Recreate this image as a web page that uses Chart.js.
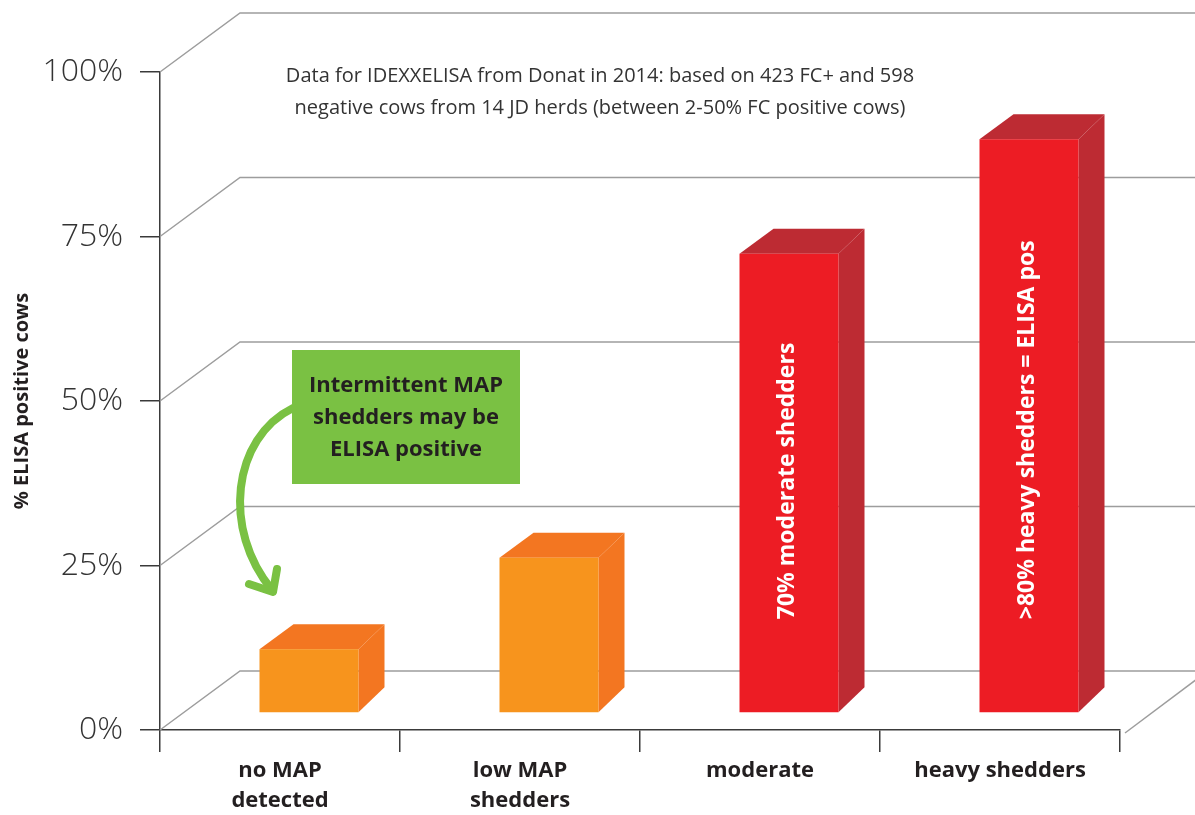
<!DOCTYPE html>
<html><head><meta charset="utf-8">
<script src="https://cdn.jsdelivr.net/npm/chart.js@4.4.1/dist/chart.umd.min.js"></script>
<style>html,body{margin:0;padding:0;background:#fff;}#wrap{width:1195px;height:815px;}</style>
</head><body><div id="wrap"><canvas id="c" width="1195" height="815"></canvas></div>
<script>
// ---- data ----
const categories = [['no MAP','detected'], ['low MAP','shedders'], 'moderate', 'heavy shedders'];
const elisaPositive = [9.7, 23.6, 69.8, 87.2];
const yTicks = [0, 25, 50, 75, 100];
const barLabels = ['', '', '70% moderate shedders', '>80% heavy shedders = ELISA pos'];
const noteLines = ['Data for IDEXXELISA from Donat in 2014: based on 423 FC+ and 598',
                   'negative cows from 14 JD herds (between 2-50% FC positive cows)'];
const calloutLines = ['Intermittent MAP', 'shedders may be', 'ELISA positive'];
const yTitle = '% ELISA positive cows';

// ---- styles ----
const frontColors = ['#F7941D', '#F7941D', '#ED1C24', '#ED1C24'];
const sideColors  = ['#F37621', '#F37621', '#BD2B33', '#BD2B33'];
const FONT = '"Open Sans", "Noto Sans", sans-serif';
const DEPTH_X = 80, DEPTH_Y = 59;
const BAR_SHIFT_X = 29, BAR_SHIFT_Y = 17;

const threeD = {
  id: 'threeD',
  afterDatasetsDraw(chart) {
    const ctx = chart.ctx, ys = chart.scales.y, ca = chart.chartArea;
    ctx.save();
    // back wall + floor
    ctx.strokeStyle = '#9d9d9d'; ctx.lineWidth = 1.5;
    yTicks.forEach(v => {
      const y = ys.getPixelForValue(v);
      ctx.beginPath();
      ctx.moveTo(ca.left, y);
      ctx.lineTo(ca.left + DEPTH_X, y - DEPTH_Y);
      ctx.lineTo(chart.width, y - DEPTH_Y);
      ctx.stroke();
    });
    const y0 = ys.getPixelForValue(0);
    ctx.beginPath();
    ctx.moveTo(ca.right + 5, y0 + 3);
    ctx.lineTo(ca.right + 5 + 76, y0 + 3 - 57);
    ctx.stroke();

    // bars
    const meta = chart.getDatasetMeta(0);
    meta.data.forEach((el, i) => {
      const w = el.width, cx = el.x + BAR_SHIFT_X;
      const L = cx - w / 2, R = cx + w / 2;
      const T = el.y - BAR_SHIFT_Y, B = el.base - BAR_SHIFT_Y;
      ctx.fillStyle = sideColors[i];
      ctx.beginPath();
      ctx.moveTo(R, T); ctx.lineTo(R + 26, T - 25); ctx.lineTo(R + 26, B - 25); ctx.lineTo(R, B);
      ctx.closePath(); ctx.fill();
      ctx.beginPath();
      ctx.moveTo(L, T); ctx.lineTo(L + 34, T - 25); ctx.lineTo(R + 26, T - 25); ctx.lineTo(R, T);
      ctx.closePath(); ctx.fill();
      ctx.fillStyle = frontColors[i];
      ctx.fillRect(L, T, w, B - T);
      if (barLabels[i]) {
        ctx.save();
        ctx.translate(cx - 2, B - 93);
        ctx.rotate(-Math.PI / 2);
        ctx.fillStyle = '#ffffff';
        ctx.font = 'bold 23px ' + FONT;
        ctx.textAlign = 'left'; ctx.textBaseline = 'middle';
        ctx.fillText(barLabels[i], 0, 0);
        ctx.restore();
      }
    });

    // note text
    ctx.fillStyle = '#333333';
    ctx.font = '20px ' + FONT;
    ctx.textAlign = 'center'; ctx.textBaseline = 'middle';
    noteLines.forEach((t, k) => ctx.fillText(t, 600, 76 + k * 32));

    // callout box
    ctx.fillStyle = '#7AC143';
    ctx.fillRect(292, 350, 228, 134);
    ctx.fillStyle = '#231F20';
    ctx.font = 'bold 22px ' + FONT;
    calloutLines.forEach((t, k) => ctx.fillText(t, 406, 386 + k * 32));

    // arrow
    ctx.strokeStyle = '#7AC143'; ctx.lineWidth = 8; ctx.lineCap = 'round'; ctx.lineJoin = 'round';
    ctx.beginPath();
    ctx.moveTo(293, 408);
    ctx.bezierCurveTo(232, 438, 222, 530, 272, 590);
    ctx.stroke();
    ctx.beginPath();
    ctx.moveTo(249, 584); ctx.lineTo(273, 592); ctx.lineTo(277, 569);
    ctx.stroke();
    ctx.restore();
  }
};

new Chart(document.getElementById('c'), {
  type: 'bar',
  data: {
    labels: categories,
    datasets: [{
      label: yTitle,
      data: elisaPositive,
      backgroundColor: 'rgba(0,0,0,0)',
      borderWidth: 0,
      barPercentage: 99 / 240,
      categoryPercentage: 1
    }]
  },
  options: {
    responsive: false,
    animation: false,
    devicePixelRatio: 1,
    layout: { padding: { left: 0, top: 72, right: 75, bottom: 0 } },
    plugins: { legend: { display: false }, tooltip: { enabled: false } },
    scales: {
      x: {
        offset: true,
        grid: { display: true, drawOnChartArea: false, drawTicks: true, tickLength: 22, offset: true, color: '#3a3a3a', lineWidth: 1.5 },
        border: { display: true, color: '#3a3a3a', width: 1.5 },
        ticks: { color: '#231F20', font: { family: FONT, size: 22, weight: 'bold', lineHeight: 1.36 }, padding: 4, maxRotation: 0, autoSkip: false },
        afterFit(s) { s.height = 85; }
      },
      y: {
        min: 0, max: 100,
        afterBuildTicks(s) { s.ticks = yTicks.map(v => ({ value: v })); },
        grid: { display: true, drawOnChartArea: false, drawTicks: true, tickLength: 20, color: '#3a3a3a', lineWidth: 1.5 },
        border: { display: true, color: '#3a3a3a', width: 1.5 },
        ticks: { color: '#333333', font: { family: FONT, size: 32, weight: '300' }, padding: 17, callback: v => v + '%' },
        title: { display: true, text: yTitle, color: '#231F20', font: { family: FONT, size: 20, weight: 'bold' }, padding: { top: 10, bottom: 0 } },
        afterFit(s) { s.width = 160; }
      }
    }
  },
  plugins: [threeD]
});
</script>
</body></html>
